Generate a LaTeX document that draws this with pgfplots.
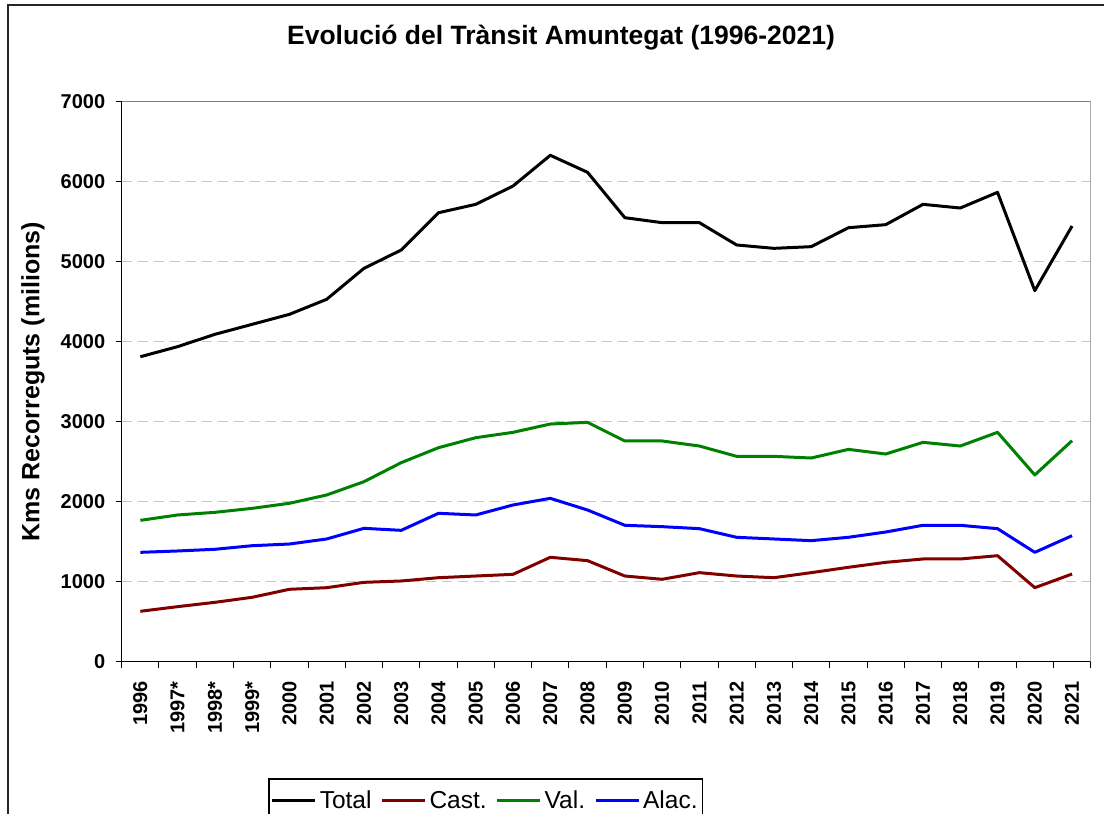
\documentclass[border=0pt]{standalone}
\usepackage{fontspec}
\setmainfont{Liberation Sans}
\usepackage{pgfplots}
\pgfplotsset{compat=1.18}
\definecolor{cast}{HTML}{800000}
\definecolor{val}{HTML}{008000}
\definecolor{alac}{HTML}{0000FF}
\definecolor{gridc}{HTML}{C8C8C8}
\begin{document}
\begin{tikzpicture}[x=1pt,y=1pt]
\path[use as bounding box] (0,0) rectangle (1104,814);
\draw[line width=2pt, black!85] (8,-30) -- (8,809) -- (1140,809);
\begin{axis}[
  at={(121.7pt,152.3pt)}, anchor=south west,
  width=969pt, height=560pt, scale only axis,
  xmin=-0.5, xmax=25.5, ymin=0, ymax=7000,
  axis lines=left, axis line style={-, line width=1.3pt, black},
  xtick={-0.5,0.5,...,25.5},
  x tick label as interval,
  xticklabels={1996,1997*,1998*,1999*,2000,2001,2002,2003,2004,2005,2006,2007,2008,2009,2010,2011,2012,2013,2014,2015,2016,2017,2018,2019,2020,2021},
  ytick={0,1000,...,7000},
  tick align=outside, major tick length=6pt,
  tick style={black, line width=1pt},
  /pgf/number format/assume math mode=true,
  /pgf/number format/1000 sep={},
  xticklabel shift=10pt,
  yticklabel shift=7pt,
  xticklabel style={rotate=90, anchor=east, font=\bfseries\fontsize{20}{20}\selectfont},
  yticklabel style={font=\bfseries\fontsize{20}{20}\selectfont},
  ymajorgrids, grid style={gridc, line width=1.2pt, dash pattern=on 10pt off 6pt},
  ylabel={Kms Recorreguts (milions)},
  ylabel style={at={(axis description cs:-0.0915,0.5)}, anchor=center, font=\bfseries\fontsize{25}{25}\selectfont},
  title={Evolució del Trànsit Amuntegat (1996-2021)},
  title style={at={(axis description cs:0.4534,1.0923)}, anchor=base, font=\bfseries\fontsize{26.5}{26.5}\selectfont},
  legend columns=4,
  legend style={at={(axis description cs:0.151,-0.2077)}, anchor=north west, draw=black, line width=1.5pt,
    font=\fontsize{24.5}{26}\selectfont, inner xsep=2pt, inner ysep=10pt,
    nodes={inner xsep=3pt},
    /tikz/every even column/.append style={column sep=6pt}},
  legend image code/.code={\draw[#1, line width=3pt] (0pt,0pt) -- (43pt,0pt);},
  every axis plot/.append style={line width=3pt, line join=round},
]
\addplot[black] coordinates {(0,3812)(1,3938)(2,4092)(3,4217)(4,4342)(5,4530)(6,4917)(7,5146)(8,5612)(9,5717)(10,5946)(11,6330)(12,6117)(13,5550)(14,5488)(15,5488)(16,5209)(17,5167)(18,5188)(19,5425)(20,5463)(21,5717)(22,5671)(23,5867)(24,4638)(25,5446)};
\addlegendentry{Total}
\addplot[cast] coordinates {(0,630)(1,688)(2,742)(3,805)(4,905)(5,925)(6,992)(7,1009)(8,1050)(9,1071)(10,1092)(11,1305)(12,1263)(13,1071)(14,1030)(15,1113)(16,1071)(17,1050)(18,1113)(19,1180)(20,1242)(21,1284)(22,1284)(23,1325)(24,925)(25,1096)};
\addlegendentry{Cast.}
\addplot[val] coordinates {(0,1767)(1,1834)(2,1867)(3,1917)(4,1980)(5,2084)(6,2250)(7,2488)(8,2675)(9,2800)(10,2867)(11,2971)(12,2992)(13,2759)(14,2759)(15,2696)(16,2567)(17,2567)(18,2546)(19,2654)(20,2596)(21,2742)(22,2696)(23,2867)(24,2334)(25,2763)};
\addlegendentry{Val.}
\addplot[alac] coordinates {(0,1367)(1,1384)(2,1405)(3,1450)(4,1471)(5,1534)(6,1667)(7,1642)(8,1855)(9,1834)(10,1959)(11,2042)(12,1896)(13,1705)(14,1688)(15,1663)(16,1555)(17,1534)(18,1513)(19,1555)(20,1621)(21,1705)(22,1705)(23,1663)(24,1367)(25,1575)};
\addlegendentry{Alac.}
\draw[line width=1.5pt, gray] (rel axis cs:0,1) -- (rel axis cs:1,1) -- (rel axis cs:1,0);
\end{axis}
\end{tikzpicture}
\end{document}
